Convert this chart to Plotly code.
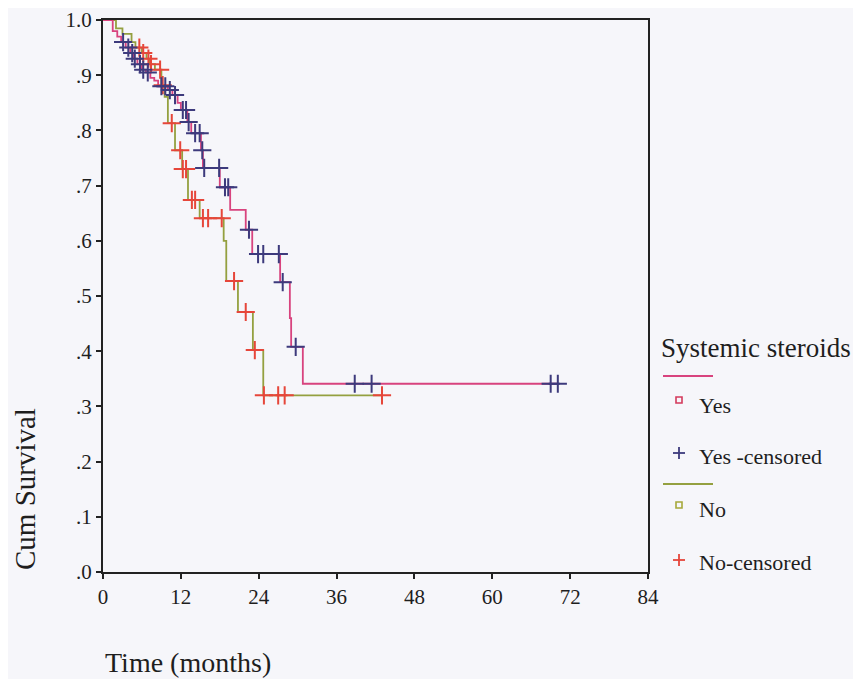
import plotly.graph_objects as go

# ---------------- data ----------------
yes_event_t = [1.5, 2.2, 2.8, 3.5, 4.2, 4.7, 5.3, 6.0, 6.6, 7.3, 7.9, 8.5, 10.0, 10.7,
               11.5, 12.0, 13.0, 13.6, 15.1, 15.4, 18.0, 19.6, 22.0, 23.0, 27.3, 28.8,
               29.0, 30.8]
yes_event_s = [.98, .97, .96, .95, .94, .93, .92, .91, .905, .895, .89, .88, .873, .864,
               .85, .837, .815, .795, .764, .732, .697, .656, .62, .576, .525, .46,
               .408, .341]
yes_cens_t = [3.1, 3.9, 4.5, 4.9, 5.7, 6.2, 6.9, 9.0, 9.6, 10.3, 11.1, 12.3, 12.8, 13.2,
              14.2, 14.9, 15.3, 15.6, 17.9, 18.8, 19.3, 22.5, 23.9, 24.7, 27.1, 27.7,
              29.7, 38.8, 41.4, 69.0, 70.1]

no_event_t = [2.0, 3.0, 4.4, 5.0, 6.0, 6.7, 7.2, 8.0, 9.0, 9.5, 10.0, 11.1, 12.2, 13.1,
              14.9, 18.6, 19.0, 20.8, 23.1, 24.7]
no_event_s = [.985, .975, .96, .95, .94, .93, .92, .91, .882, .861, .813, .764, .73, .674,
              .641, .60, .527, .471, .402, .32]
no_cens_t = [5.6, 6.2, 7.0, 7.4, 8.8, 9.2, 10.6, 11.9, 12.3, 12.8, 13.7, 14.2, 15.4, 16.2,
             18.3, 20.2, 22.0, 23.4, 24.8, 27.0, 28.0, 43.0]

x_ticks = [0, 12, 24, 36, 48, 60, 72, 84]
y_ticks = [0, .1, .2, .3, .4, .5, .6, .7, .8, .9, 1.0]
y_ticktext = [".0", ".1", ".2", ".3", ".4", ".5", ".6", ".7", ".8", ".9", "1.0"]

legend_title = "Systemic steroids"
legend_labels = ["Yes", "Yes -censored", "No", "No-censored"]

# ---------------- styling ----------------
YES_LINE = "#d8437e"
YES_CENS = "#3d3a7c"
NO_LINE = "#94a040"
NO_CENS = "#e6463a"
FONT = "Liberation Serif, Times New Roman, serif"
TXT = "#1e1e1e"
BG = "#f6f6fa"


def step_value(ts, ss, t):
    val = 1.0
    for a, b in zip(ts, ss):
        if a <= t:
            val = b
    return val


def curve(ts, ss, end_t):
    xs = [0] + ts + [end_t]
    ys = [1.0] + ss + [ss[-1]]
    return xs, ys


fig = go.Figure()

yx, yy = curve(yes_event_t, yes_event_s, max(yes_cens_t))
nx, ny = curve(no_event_t, no_event_s, max(no_cens_t))

fig.add_trace(go.Scatter(x=nx, y=ny, mode="lines", line=dict(color=NO_LINE, width=1.8, shape="hv"),
                         showlegend=False, hoverinfo="skip"))
fig.add_trace(go.Scatter(x=yx, y=yy, mode="lines", line=dict(color=YES_LINE, width=1.8, shape="hv"),
                         showlegend=False, hoverinfo="skip"))
fig.add_trace(go.Scatter(x=no_cens_t, y=[step_value(no_event_t, no_event_s, t) for t in no_cens_t],
                         mode="markers",
                         marker=dict(symbol="cross-thin", size=13, line=dict(color=NO_CENS, width=2)),
                         showlegend=False))
fig.add_trace(go.Scatter(x=yes_cens_t, y=[step_value(yes_event_t, yes_event_s, t) for t in yes_cens_t],
                         mode="markers",
                         marker=dict(symbol="cross-thin", size=13, line=dict(color=YES_CENS, width=2)),
                         showlegend=False))

# page has an 8px body margin; plot area in page pixels
OFF = 8
L, R, T, B = 103, 648, 20, 572
W, H = 861 - OFF, 679 - OFF


def px(xp):
    return (xp - L) / (R - L)


def py(yp):
    return (B - yp) / (B - T)


shapes = []
annotations = []

# legend
annotations.append(dict(x=px(659), y=py(348), xref="paper", yref="paper", text=legend_title,
                        showarrow=False, xanchor="left", yanchor="middle",
                        font=dict(family=FONT, size=27, color=TXT)))
shapes.append(dict(type="line", xref="paper", yref="paper", x0=px(663), x1=px(713), y0=py(376), y1=py(376),
                   line=dict(color=YES_LINE, width=2)))
shapes.append(dict(type="line", xref="paper", yref="paper", x0=px(663), x1=px(713), y0=py(484), y1=py(484),
                   line=dict(color=NO_LINE, width=2)))
# squares
for yc, col in [(400, "#d43a5c"), (505, "#a6a83a")]:
    shapes.append(dict(type="rect", xref="paper", yref="paper", x0=px(676), x1=px(682),
                       y0=py(yc + 3), y1=py(yc - 3), line=dict(color=col, width=1.6)))
# pluses
for yc, col in [(453, YES_CENS), (560, NO_CENS)]:
    shapes.append(dict(type="line", xref="paper", yref="paper", x0=px(673), x1=px(685), y0=py(yc), y1=py(yc),
                       line=dict(color=col, width=1.8)))
    shapes.append(dict(type="line", xref="paper", yref="paper", x0=px(679), x1=px(679), y0=py(yc - 6),
                       y1=py(yc + 6), line=dict(color=col, width=1.8)))
for label, yc in zip(legend_labels, [405, 456, 510, 562]):
    annotations.append(dict(x=px(697), y=py(yc), xref="paper", yref="paper", text=label,
                            showarrow=False, xanchor="left", yanchor="middle",
                            font=dict(family=FONT, size=22, color=TXT)))

# axis titles
annotations.append(dict(x=px(25), y=py(489), xref="paper", yref="paper", text="Cum Survival",
                        showarrow=False, textangle=-90, xanchor="center", yanchor="middle",
                        font=dict(family=FONT, size=29, color=TXT)))
annotations.append(dict(x=px(103), y=py(662), xref="paper", yref="paper", text="Time (months)",
                        showarrow=False, xanchor="left", yanchor="middle",
                        font=dict(family=FONT, size=28, color=TXT)))

fig.update_layout(
    width=W, height=H,
    margin=dict(l=L - OFF, r=W - (R - OFF), t=T - OFF, b=H - (B - OFF), pad=0, autoexpand=False),
    paper_bgcolor=BG, plot_bgcolor=BG,
    shapes=shapes, annotations=annotations,
    showlegend=False,
    font=dict(family=FONT, color=TXT),
)
fig.update_xaxes(range=[0, 84], tickvals=x_ticks, showgrid=False, zeroline=False, automargin=False,
                 showline=True, linecolor="#222", linewidth=2, mirror=True,
                 ticks="outside", ticklen=5, tickwidth=1.5, tickcolor="#222",
                 tickfont=dict(family=FONT, size=21, color=TXT))
fig.update_yaxes(range=[0, 1.0], tickvals=y_ticks, ticktext=y_ticktext, showgrid=False, zeroline=False,
                 automargin=False,
                 showline=True, linecolor="#222", linewidth=2, mirror=True,
                 ticks="outside", ticklen=5, tickwidth=1.5, tickcolor="#222",
                 tickfont=dict(family=FONT, size=21, color=TXT))

fig.write_html("out.html")
